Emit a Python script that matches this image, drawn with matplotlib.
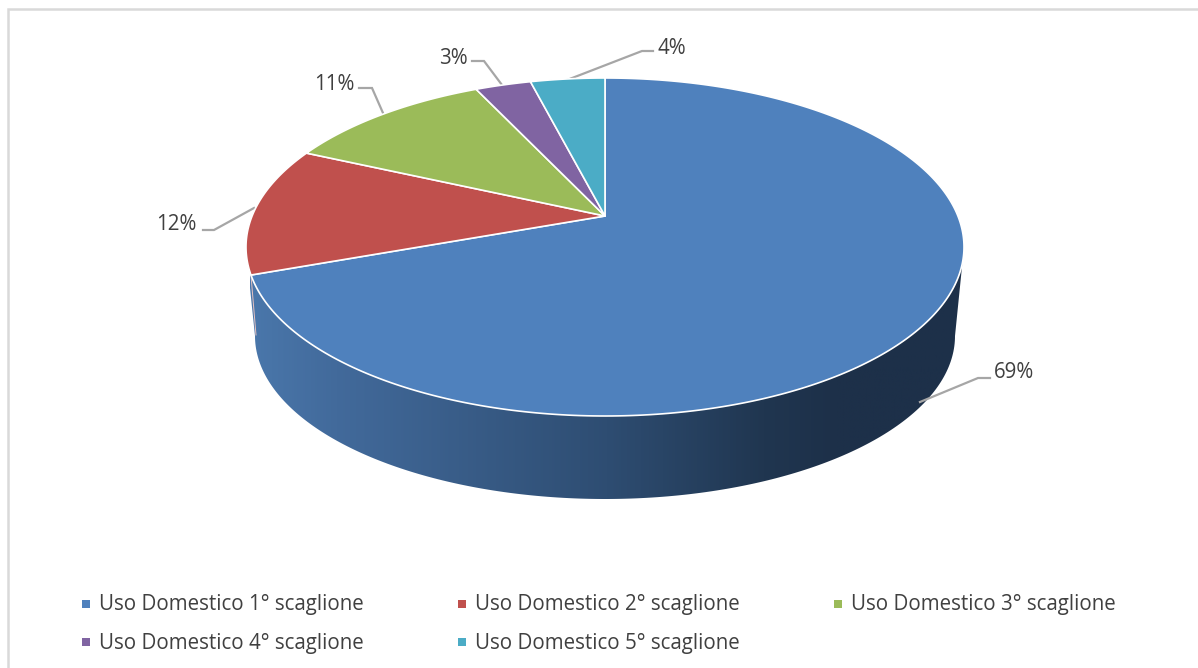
import numpy as np
import matplotlib
matplotlib.use("Agg")
import matplotlib.pyplot as plt
from matplotlib.colors import LinearSegmentedColormap
from matplotlib.patches import Polygon

labels = [
    "Uso Domestico 1° scaglione",
    "Uso Domestico 2° scaglione",
    "Uso Domestico 3° scaglione",
    "Uso Domestico 4° scaglione",
    "Uso Domestico 5° scaglione",
]
values = [69.49, 12.3, 11.2, 3.0, 4.0]
colors = ["#4f81bd", "#c0504d", "#9bbb59", "#8064a2", "#4bacc6"]

plt.rcParams["font.family"] = ["Open Sans", "DejaVu Sans"]

# geometry of the tilted pie, in pixels
CX, CY, RX, RY = 605, 247, 359, 169
BOT_CX, BOT_CY, BOT_RX, BOT_RY = 605, 336, 350, 163
TILT = (247 - 216) / 169  # moves the pie centre up, as the perspective does


def to_screen(theta):
    # theta is clockwise from 12 o'clock; projective map of the unit disc
    u, v = np.sin(theta), np.cos(theta)
    den = 1 + TILT * v
    u2 = u * np.sqrt(1 - TILT ** 2) / den
    v2 = (v + TILT) / den
    return CX + RX * u2, CY - RY * v2


fig = plt.figure(figsize=(11.98, 6.68), dpi=100)
ax = fig.add_axes([0, 0, 1, 1])

# side wall of the first slice
first_end = 2 * np.pi * values[0] / sum(values)
x_end, y_end = to_screen(first_end)
t_top = np.linspace(0, np.arctan2(y_end - CY, x_end - CX), 200)
t_bot = np.linspace(np.pi, 0, 200)
wall = np.vstack([
    np.column_stack([CX + RX * np.cos(t_top), CY + RY * np.sin(t_top)]),
    np.column_stack([BOT_CX + BOT_RX * np.cos(t_bot), BOT_CY + BOT_RY * np.sin(t_bot)]),
])
wall_patch = Polygon(wall, closed=True, fc="none", ec="none")
ax.add_patch(wall_patch)
cmap = LinearSegmentedColormap.from_list(
    "wall",
    [(0.0, "#4a77ab"), (0.12, "#426a9b"), (0.5, "#2e4d72"), (0.72, "#203650"), (0.82, "#1d3049"), (1.0, "#1d3049")],
)
img = ax.imshow(
    np.linspace(0, 1, 512).reshape(1, -1),
    cmap=cmap,
    extent=(250, 965, 500, 240),
    aspect="auto",
    zorder=1,
)
img.set_clip_path(wall_patch)
ax.plot([x_end, 256], [y_end, 335], color="#e6c3c1", lw=0.7, zorder=1.2)

# top face
start = 0.0
total = sum(values)
for val, col in zip(values, colors):
    end = start + 2 * np.pi * val / total
    tt = np.linspace(start, end, 300)
    xs, ys = to_screen(tt)
    pts = np.column_stack([np.r_[CX, xs], np.r_[CY - RY * TILT, ys]])
    ax.add_patch(Polygon(pts, closed=True, fc=col, ec="white", lw=1.2, joinstyle="round", zorder=2))
    start = end

# data labels with leader lines
pct_text = [f"{round(v)}%" for v in values]
label_pos = [(1014, 373), (176, 224), (334, 85), (453, 58), (672, 48)]
leaders = [
    [(920, 402), (978, 378), (990, 378)],
    [(254, 208), (214, 230), (203, 230)],
    [(383, 113), (372, 88), (359, 88)],
    [(502, 85), (484, 61), (472, 61)],
    [(567, 80), (642, 51), (653, 51)],
]
for txt, pos, line in zip(pct_text, label_pos, leaders):
    ax.plot(*zip(*line), color="#a6a6a6", lw=1.6, solid_joinstyle="miter", zorder=1.5)
    ax.text(pos[0], pos[1], txt, fontsize=14.8, color="#404040", ha="center", va="center")

# legend
legend_pos = [(86, 603.5), (462, 603.5), (838, 603.5), (86, 642), (462, 642)]
for lab, col, (lx, ly) in zip(labels, colors, legend_pos):
    ax.scatter([lx], [ly], marker="s", s=40, color=col, linewidths=0)
    ax.text(lx + 13, ly + 1, lab, fontsize=14.8, color="#404040", ha="left", va="center")

# chart frame, cut off on the right and at the bottom
ax.plot([8, 8, 1198], [668, 9, 9], color="#d9d9d9", lw=1.8, solid_joinstyle="miter")

ax.set_xlim(0, 1198)
ax.set_ylim(668, 0)
ax.axis("off")
fig.savefig("out.png", dpi=100)
plt.close(fig)
